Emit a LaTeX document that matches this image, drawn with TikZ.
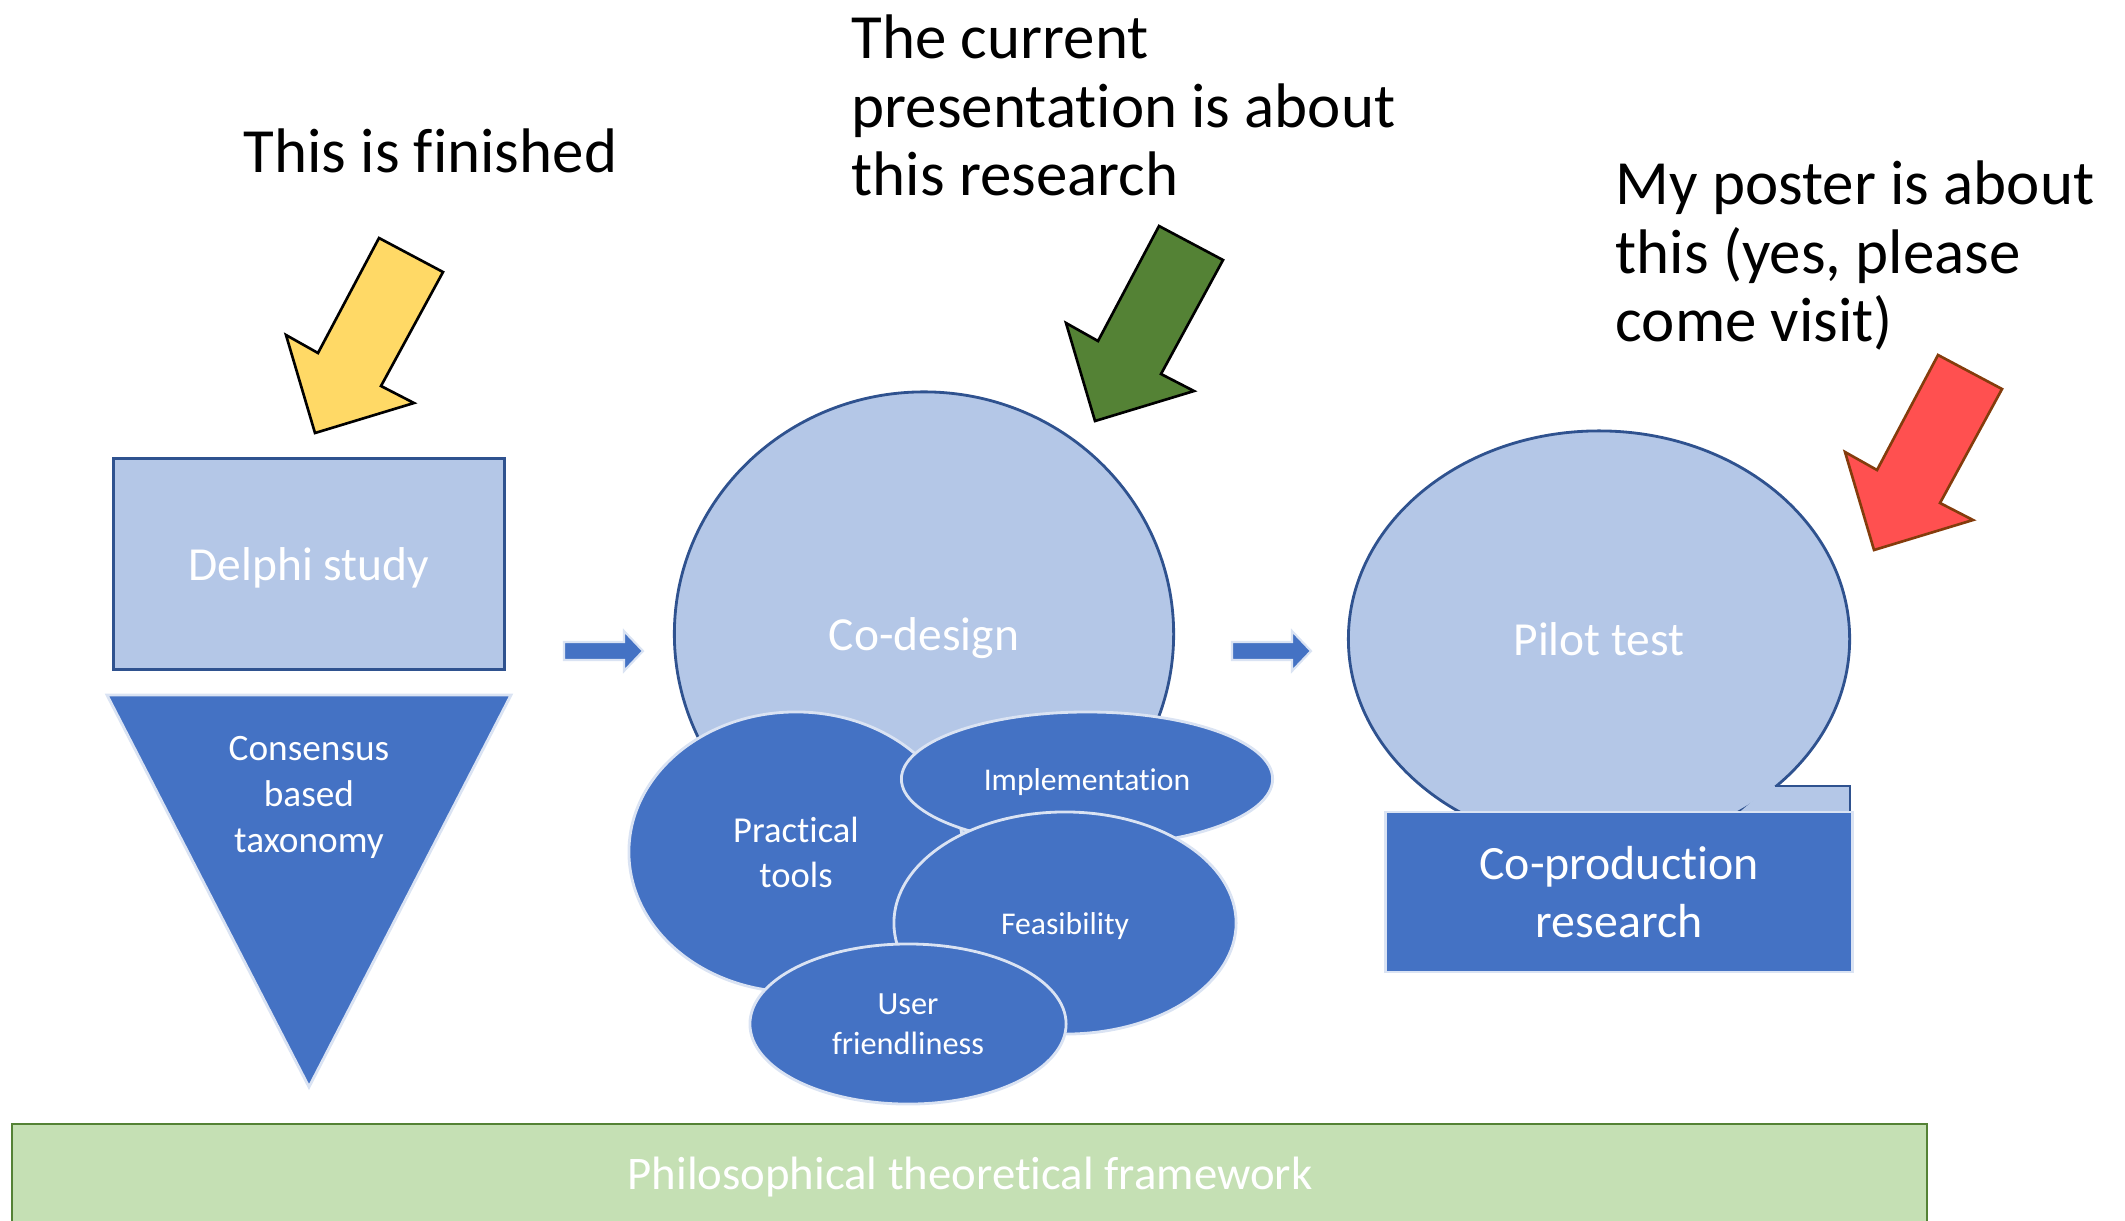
\documentclass[tikz,border=0pt]{standalone}
\usepackage{fontspec}
\setmainfont{Carlito}[Ligatures=NoCommon]
\usepackage{xcolor}
\usepackage{tikz}
\usetikzlibrary{shapes.geometric}

\definecolor{paleblue}{HTML}{B4C7E7}
\definecolor{midblue}{HTML}{4472C4}
\definecolor{darkblue}{HTML}{2F528F}
\definecolor{rimblue}{HTML}{DAE3F3}
\definecolor{palegreen}{HTML}{C5E0B4}
\definecolor{leafgreen}{HTML}{548235}
\definecolor{sunyellow}{HTML}{FFD966}
\definecolor{alertred}{HTML}{FF5050}
\definecolor{rustbrown}{HTML}{843C0C}

\begin{document}
\begin{tikzpicture}[x=0.01cm, y=-0.01cm,
	stage/.style={fill=paleblue, draw=darkblue, line width=0.8pt, text=white, text depth=0pt, font=\fontsize{13.5}{16.5}\selectfont},
	part/.style={ellipse, fill=midblue, draw=rimblue, line width=0.8pt, text=white, text depth=0pt, align=center, inner sep=0pt},
	note/.style={anchor=north west, align=left, inner sep=0pt, font=\fontsize{17.9}{19.5}\selectfont}]
	\useasboundingbox (0,0) rectangle (2125,1220);

	% bottom bar
	\draw[fill=palegreen, draw=leafgreen, line width=0.8pt] (12,1124) rectangle (1927,1228);
	\node[text=white, font=\fontsize{13.3}{16}\selectfont] (framework) at (970,1177) {Philosophical theoretical framework};

	% Delphi study
	\node[stage, rectangle, minimum width=3.9cm, minimum height=2.11cm] (delphi) at (309,564) {Delphi study};
	\draw[fill=midblue, draw=rimblue, line width=0.8pt] (107,695) -- (511,695) -- (309,1087) -- cycle;
	\node[text=white, align=center, font=\fontsize{10.6}{13.1}\selectfont] (taxonomy) at (309,797) {Consensus\\based\\taxonomy};

	% Co-design and its parts
	\node[stage, ellipse, minimum width=4.99cm, minimum height=4.84cm] (codesign) at (924,634) {Co-design};
	\node[part, minimum width=3.34cm, minimum height=2.8cm, font=\fontsize{10.4}{12.7}\selectfont] (tools) at (796,852) {Practical\\tools};
	\node[part, minimum width=3.71cm, minimum height=1.34cm, font=\fontsize{9}{11}\selectfont] (implement) at (1087,779) {Implementation};
	\node[part, minimum width=3.42cm, minimum height=2.22cm, font=\fontsize{9}{11}\selectfont] (feasible) at (1065,923) {Feasibility};
	\node[part, minimum width=3.16cm, minimum height=1.6cm, font=\fontsize{9.2}{11.2}\selectfont] (friendly) at (908,1024) {User\\friendliness};

	% Pilot test with its tail
	\node[stage, ellipse, minimum width=5.01cm, minimum height=4.16cm] (pilot) at (1599,639) {Pilot test};
	\fill[paleblue] (1770,786) -- (1850,786) -- (1850,816) -- (1735,816) -- cycle;
	\draw[darkblue, line width=0.8pt] (1775,786) -- (1850,786) -- (1850,814);
	\node[rectangle, fill=midblue, draw=rimblue, line width=0.8pt, minimum width=4.66cm, minimum height=1.6cm, text=white, align=center, font=\fontsize{13.6}{16.6}\selectfont] (coprod) at (1619,892) {Co-production\\research};

	% step arrows
	\foreach \bx in {564,1232}
		\draw[fill=midblue, draw=rimblue, line width=0.6pt] (\bx,642) -- (\bx+60,642) -- (\bx+60,631) -- (\bx+79,651) -- (\bx+60,671) -- (\bx+60,660) -- (\bx,660) -- cycle;

	% pointers
	\foreach \tx/\ty/\fillc/\edgec in {315/433/sunyellow/black, 1095/421/leafgreen/black, 1874/550/alertred/rustbrown}
		\draw[shift={(\tx,\ty)}, fill=\fillc, draw=\edgec, line width=0.75pt] (0,0) -- (-29,-98) -- (3,-80) -- (64,-195) -- (128,-161) -- (66,-47) -- (99,-30) -- cycle;

	% notes
	\node[note] (finished) at (243,128) {This is finished};
	\node[note] (current) at (851,14) {The current\\presentation is about\\this research};
	\node[note] (poster) at (1615,160) {My poster is about\\this (yes, please\\come visit)};
\end{tikzpicture}
\end{document}
